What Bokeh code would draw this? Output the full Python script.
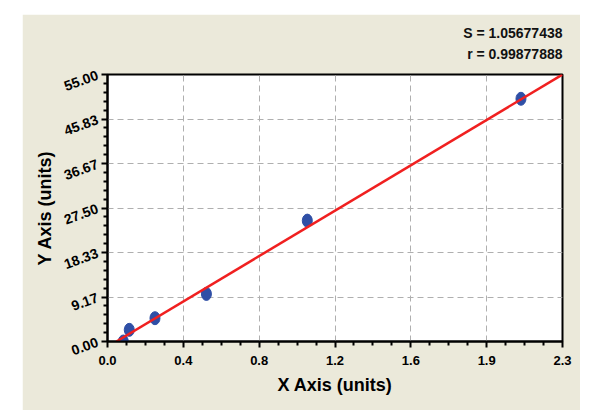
import math
from bokeh.plotting import figure
from bokeh.models import FixedTicker, Title, ColumnDataSource, Spacer
from bokeh.layouts import column, row
from bokeh.embed import file_html
from bokeh.resources import INLINE

# data
x_vals = [0.08, 0.11, 0.24, 0.50, 1.01, 2.09]
y_vals = [0.0, 2.4, 4.8, 9.8, 24.9, 50.0]
fit_x = [0.045, 2.3]
fit_y = [0.0, 55.0]
x_ticks = [0.0, 2.3 / 6, 2 * 2.3 / 6, 3 * 2.3 / 6, 4 * 2.3 / 6, 5 * 2.3 / 6, 2.3]
x_tick_labels = ["0.0", "0.4", "0.8", "1.2", "1.6", "1.9", "2.3"]
y_ticks = [0.0, 55 / 6, 2 * 55 / 6, 3 * 55 / 6, 4 * 55 / 6, 5 * 55 / 6, 55.0]
y_tick_labels = ["0.00", "9.17", "18.33", "27.50", "36.67", "45.83", "55.00"]
stats_text = ["S = 1.05677438", "r = 0.99877888"]

BEIGE = "#EBE9DA"
FONT = "Liberation Sans"

p = figure(frame_width=455, frame_height=267, output_backend="svg", toolbar_location=None,
           x_range=(0, 2.3), y_range=(0, 55),
           min_border_left=85, min_border_right=18, min_border_top=60, min_border_bottom=69)
p.background_fill_color = "white"
p.border_fill_color = BEIGE
p.outline_line_color = "black"
p.outline_line_width = 2

def minor_list(ticks, n):
    out = []
    for a, b in zip(ticks[:-1], ticks[1:]):
        for k in range(1, n):
            out.append(a + (b - a) * k / n)
    return out

p.xaxis.ticker = FixedTicker(ticks=x_ticks, minor_ticks=minor_list(x_ticks, 4))
p.yaxis.ticker = FixedTicker(ticks=y_ticks, minor_ticks=minor_list(y_ticks, 5))
p.xaxis.major_label_overrides = {t: l for t, l in zip(x_ticks, x_tick_labels)}
p.yaxis.major_label_overrides = {t: l for t, l in zip(y_ticks, y_tick_labels)}

for ax in (p.xaxis, p.yaxis):
    ax.axis_line_color = "black"
    ax.axis_line_width = 2
    ax.major_tick_line_color = "black"
    ax.major_tick_line_width = 2
    ax.minor_tick_line_color = "black"
    ax.minor_tick_line_width = 2
    ax.major_tick_in = 0
    ax.major_tick_out = 6
    ax.minor_tick_in = 0
    ax.minor_tick_out = 4
    ax.major_label_text_font = FONT
    ax.major_label_text_font_style = "bold"
    ax.major_label_text_font_size = "13px"
    ax.major_label_text_color = "black"
    ax.axis_label_text_font = FONT
    ax.axis_label_text_font_style = "bold"
    ax.axis_label_text_font_size = "18px"
    ax.axis_label_text_color = "black"

p.yaxis.major_label_text_font_size = "14px"
p.xaxis.axis_label = "X Axis (units)"
p.yaxis.axis_label = "Y Axis (units)"
p.yaxis.major_label_orientation = 0.35
p.xaxis.major_label_standoff = 8
p.xaxis.axis_label_standoff = 7
p.yaxis.major_label_standoff = 4
p.yaxis.axis_label_standoff = 3

p.xgrid.grid_line_color = "#AFAFAF"
p.ygrid.grid_line_color = "#AFAFAF"
p.xgrid.grid_line_dash = "6 4"
p.ygrid.grid_line_dash = "6 4"
p.xgrid.grid_line_width = 1
p.ygrid.grid_line_width = 1

src = ColumnDataSource(dict(x=x_vals, y=y_vals))
p.ellipse(x="x", y="y", width=10, height=13, width_units="screen", height_units="screen",
          source=src, fill_color="#2F4FA6", line_color="#2F4FA6")
p.line(fit_x, fit_y, line_color="#F02020", line_width=2.5)

# stats text: r first (closest to frame), then S above it
p.add_layout(Title(text=stats_text[1], align="right", text_font=FONT, text_font_style="bold",
                   text_font_size="14px", text_color="#111111", standoff=26), "above")
p.add_layout(Title(text=stats_text[0], align="right", text_font=FONT, text_font_style="bold",
                   text_font_size="14px", text_color="#111111", standoff=-21), "above")

layout = column(Spacer(height=14, width=100),
                row(Spacer(width=22, height=100), p))
open("out.html", "w").write(file_html(layout, INLINE))
